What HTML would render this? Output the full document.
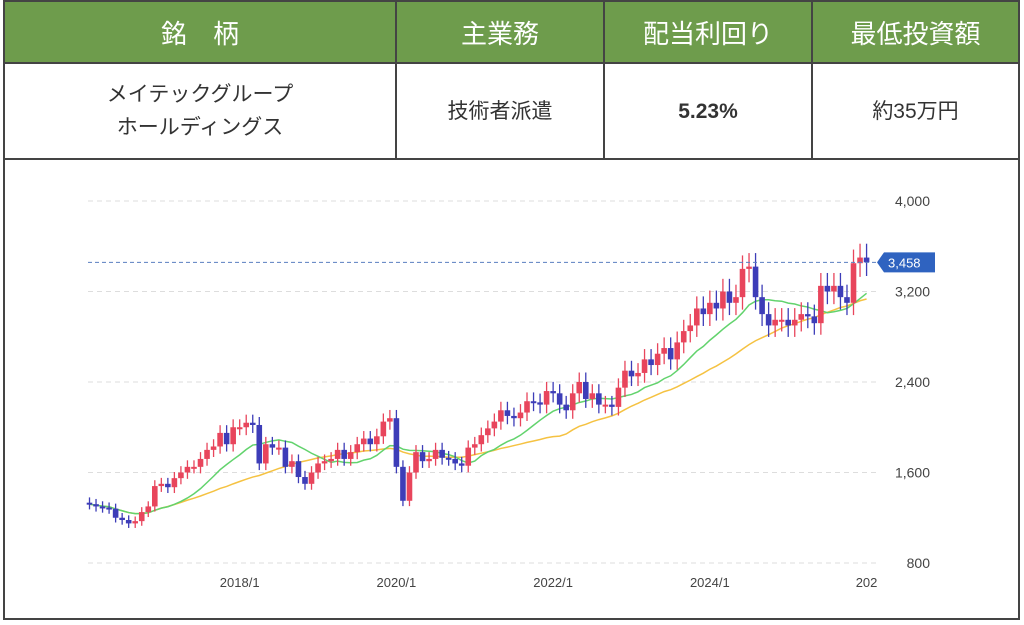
<!DOCTYPE html>
<html><head><meta charset="utf-8"><style>
body{margin:0;width:1024px;height:625px;background:#fff;font-family:"Liberation Sans","Noto Sans CJK JP",sans-serif;overflow:hidden}
table{position:absolute;left:3px;top:0;border-collapse:collapse;width:1017px;table-layout:fixed}
td,th{border:2px solid #444;text-align:center;color:#333;padding:0}
th{background:#6e9c4c;color:#fff;font-weight:normal;font-size:26px;height:60px}
td{height:94px;font-size:21px;line-height:33px}
#box{position:absolute;left:3px;top:158px;width:1013px;height:460px;border:2px solid #444;border-top:none}
</style></head><body>
<table>
<colgroup><col style="width:392px"><col style="width:208px"><col style="width:208px"><col></colgroup>
<tr><th>銘　柄</th><th>主業務</th><th>配当利回り</th><th>最低投資額</th></tr>
<tr><td>メイテックグループ<br>ホールディングス</td><td>技術者派遣</td><td style="font-weight:bold">5.23%</td><td>約35万円</td></tr>
</table>
<div id="box"></div>
<svg id="c" width="1024" height="625" style="position:absolute;left:0;top:0"></svg>
<script>
const closes=[1320,1300,1290,1280,1200,1180,1150,1170,1250,1300,1480,
1500,1470,1550,1600,1650,1650,1720,1800,1830,1950,1850,2000,
2000,2040,2020,1680,1850,1820,1820,1650,1700,1560,1500,1600,
1680,1700,1720,1800,1720,1780,1850,1900,1850,1920,2050,2080,
1650,1350,1600,1780,1700,1720,1800,1730,1720,1680,1660,1820,
1850,1930,1990,2050,2150,2100,2080,2130,2230,2220,2200,2320,
2300,2200,2150,2300,2400,2250,2300,2200,2200,2180,2350,2500,
2450,2480,2600,2550,2650,2700,2600,2750,2850,2900,3050,3000,
3100,3050,3200,3100,3150,3400,3420,3150,3000,2900,2950,2950,
2900,2950,3000,2980,2920,3250,3200,3250,3150,3100,3450,3500,
3458];
const yTicks=[800,1600,2400,3200,4000];
const xTickLabels=["2018/1","2020/1","2022/1","2024/1","202"];
const xTickIdx=[23,47,71,95,119];
const lastPrice=3458;
const NS="http://www.w3.org/2000/svg",svg=document.getElementById('c');
const y=v=>201+(4000-v)*362/3200, x=i=>89.5+i*6.53;
function el(t,a,p){const e=document.createElementNS(NS,t);for(const k in a)e.setAttribute(k,a[k]);(p||svg).appendChild(e);return e;}
yTicks.forEach(v=>{const g=el('line',{x1:88,x2:877,y1:y(v),y2:y(v),stroke:'#ddd','stroke-dasharray':'5 4'});


const t=el('text',{x:930,y:y(v)+5,'text-anchor':'end','font-size':14,fill:'#444'});t.textContent=v.toLocaleString('en-US');

});
xTickIdx.forEach((ix,k)=>{const t=el('text',{x:x(ix),y:587,'text-anchor':'middle','font-size':13,fill:'#444'});t.textContent=xTickLabels[k];

});
function ma(n){return closes.map((c,i)=>{const s=closes.slice(Math.max(0,i-n+1),i+1);return s.reduce((a,b)=>a+b,0)/s.length;});}
[[ma(26),'#f5c242'],[ma(12),'#62d36d']].forEach(([m,col],k)=>{const p=el('polyline',{points:m.map((v,i)=>x(i)+','+y(v)).join(' '),fill:'none',stroke:col,'stroke-width':1.5});

});
closes.forEach((c,i)=>{const o=i?closes[i-1]:c*1.01;const up=c>=o,col=up?'#e8455c':'#3d3db8';
const hi=Math.max(o,c)*1.035,lo=Math.min(o,c)*0.965;
const w=el('line',{x1:x(i),x2:x(i),y1:y(hi),y2:y(lo),stroke:col,'stroke-width':1.3});


const r=el('rect',{x:x(i)-2.8,width:5.6,y:y(Math.max(o,c)),height:Math.max(2,Math.abs(y(o)-y(c))),fill:col});

});
const ly=y(lastPrice);
const pl=el('line',{x1:88,x2:877,y1:ly,y2:ly,stroke:'#5a7fc0','stroke-dasharray':'4 3'});


const tag=el('path',{d:`M877 ${ly} L884 ${ly-10} L935 ${ly-10} L935 ${ly+10} L884 ${ly+10} Z`,fill:'#2f63c0'});


const tt=el('text',{x:888,y:ly+5,'font-size':13,fill:'#fff'});tt.textContent=lastPrice.toLocaleString('en-US');


</script>
</body></html>
